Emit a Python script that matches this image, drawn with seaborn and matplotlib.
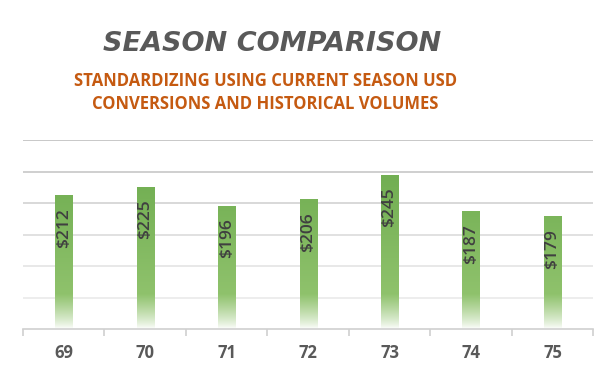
import numpy as np
import pandas as pd
import seaborn as sns
import matplotlib.pyplot as plt
from matplotlib.colors import to_rgb

# chart data
seasons = ["69", "70", "71", "72", "73", "74", "75"]
values = [212, 225, 196, 206, 245, 187, 179]
labels = ["$212", "$225", "$196", "$206", "$245", "$187", "$179"]

df = pd.DataFrame({"season": seasons, "value": values})

sns.set_theme(style="white")
plt.rcParams["font.family"] = ["Open Sans", "DejaVu Sans"]

fig = plt.figure(figsize=(6.16, 3.77), dpi=100)
ax = fig.add_axes([0.0373, 0.1273, 0.9257, 0.5013])

sns.barplot(data=df, x="season", y="value", color="#70ad47", width=0.21,
            ax=ax, saturation=1)
ax.set_ylim(0, 300)
ax.set_xlim(-0.5, 6.5)

# gradient fill: solid green at top, fading to white at the base
top = np.array(to_rgb("#68a84a"))
mid = np.array(to_rgb("#8fc26c"))
white = np.array([1.0, 1.0, 1.0])
yy = np.linspace(0, 300, 300)
grad = np.zeros((300, 1, 3))
for i, y in enumerate(yy):
    if y < 55:
        t = (y / 55) ** 0.8
        grad[i, 0] = white * (1 - t) + mid * t
    else:
        t = (y - 55) / 245
        grad[i, 0] = mid * (1 - t) + top * t
for p in ax.patches:
    p.set_facecolor("none")
    p.set_edgecolor("none")
    im = ax.imshow(grad, extent=[-0.5, 6.5, 0, 300], origin="lower",
                   aspect="auto", zorder=2)
    im.set_clip_path(p)

# gridlines, darker toward the top
ticks = [50, 100, 150, 200, 250, 300]
shades = ["#ececec", "#e6e6e6", "#dedede", "#d6d6d6", "#cccccc", "#c4c4c4"]
for t, c in zip(ticks, shades):
    ax.axhline(t, color=c, lw=1.3, zorder=1)

sns.despine(ax=ax, left=True, top=True, right=True)
ax.spines["bottom"].set_color("#d0d0d0")
ax.spines["bottom"].set_linewidth(1.2)
ax.set_yticks([])
ax.set_xticks(np.arange(-0.5, 7, 1), minor=True)
ax.tick_params(axis="x", which="minor", length=5, color="#d0d0d0", width=1.2,
               direction="out", bottom=True)
ax.tick_params(axis="x", which="major", length=0, pad=11)
ax.set_xlabel("")
ax.set_ylabel("")
for lbl in ax.get_xticklabels():
    lbl.set_fontweight("bold")
    lbl.set_fontsize(12)
    lbl.set_color("#595959")

# value labels inside the bars
for i, (v, s) in enumerate(zip(values, labels)):
    ax.text(i, v - 20, s, rotation=90, ha="center", va="top",
            fontsize=12.5, fontweight="semibold", color="#404040", zorder=3)

fig.text(0.442, 0.882, "SEASON COMPARISON", ha="center", va="center",
         fontsize=19.5, fontweight="bold", fontstyle="italic", color="#595959",
         family="DejaVu Sans")
fig.text(0.431, 0.755,
         "STANDARDIZING USING CURRENT SEASON USD\nCONVERSIONS AND HISTORICAL VOLUMES",
         ha="center", va="center", fontsize=12, fontweight="bold",
         color="#c55a11", linespacing=1.4)

fig.savefig("out.png", dpi=100)
